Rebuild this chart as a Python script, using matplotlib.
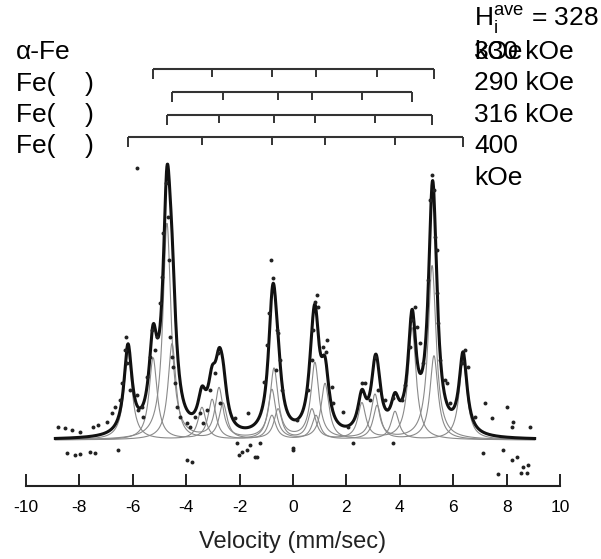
import numpy as np
import matplotlib
matplotlib.use('Agg')
import matplotlib.pyplot as plt

plt.rcParams['font.family'] = ['Liberation Sans', 'DejaVu Sans']
plt.rcParams['axes.unicode_minus'] = False
plt.rcParams['mathtext.fontset'] = 'custom'
plt.rcParams['mathtext.rm'] = 'Liberation Sans'

# line positions of the four sextets (mm/sec)
lines_330 = [-5.24, -3.03, -0.79, 0.86, 3.15, 5.28]
lines_290 = [-4.53, -2.62, -0.56, 0.71, 2.58, 4.46]
lines_316 = [-4.72, -2.77, -0.71, 0.82, 3.07, 5.21]
lines_400 = [-6.18, -3.41, -0.79, 1.20, 3.82, 6.37]

# line intensities (relative absorption, %) estimated from the fitted curves
heights_330 = [2.05, 1.0, 0.6, 0.6, 0.85, 2.1]
heights_290 = [2.4, 0.9, 0.75, 0.75, 0.9, 2.8]
heights_316 = [5.4, 1.25, 1.75, 1.9, 1.1, 4.35]
heights_400 = [2.2, 0.8, 1.25, 1.4, 0.7, 2.0]
hwhm = 0.18

left_labels = ['α-Fe', 'Fe(    )', 'Fe(    )', 'Fe(    )']
right_labels = ['330 kOe', '290 kOe', '316 kOe', '400', 'kOe']

# measured points (velocity, absorption %)
obs_v = [-8.79, -8.54, -8.29, -7.98, -7.48, -7.29, -6.98, -6.79, -6.67,
         -8.48, -8.16, -7.98, -7.60, -7.42, -6.54,
         -6.25, -6.29, -6.21, -6.42, -6.48, -6.10, -5.85, -5.79,
         -5.48, -5.36, -5.29, -5.10, -5.17, -5.67, -5.61,
         -4.98, -4.92, -4.86, -4.76, -4.67, -4.63, -4.61, -4.54, -4.48, -4.42,
         -4.36, -4.23, -3.98, -3.86, -3.67, -3.48, -3.98, -3.79, -5.84,
         -2.80, -2.92, -3.11, -2.73, -3.23, -3.36, -2.17, -1.67, -2.11, -1.92,
         -1.73, -1.36, -1.61, -1.24, -2.02, -1.42,
         -0.84, -0.76, -0.89, -0.99, -1.09, -0.61, -0.55, -0.49, -0.42, -0.64,
         0.01, 0.14, 0.0,
         0.91, 0.82, 0.95, 0.76, 0.70, 1.26, 1.24, 1.11, 0.57, 1.45, 1.51,
         1.88, 2.07, 2.26, 2.57, 2.88, 3.07,
         3.19, 2.70, 3.45, 3.76, 4.07, 4.19, 4.38, 4.45, 4.57, 4.63, 4.76, 4.86,
         5.07, 5.13, 5.19, 5.28, 5.32, 5.38, 5.40, 5.44, 5.51, 5.69, 5.78, 5.88,
         6.32, 6.44, 6.57, 6.82, 7.19, 7.44, 8.00, 8.25, 8.19, 8.88,
         7.13, 7.88, 8.19, 8.38, 8.63, 8.81, 3.75, 7.68, 8.54, 8.76]
obs_h = [0.33, 0.29, 0.25, 0.21, 0.33, 0.38, 0.46, 0.67, 0.83,
         -0.33, -0.38, -0.35, -0.29, -0.33, -0.25,
         2.58, 2.25, 1.92, 1.42, 1.0, 1.25, 1.13, 0.75,
         1.58, 2.08, 2.75, 2.58, 2.25, 0.83, 0.58,
         3.42, 4.08, 5.17, 6.42, 5.58, 4.5, 2.58, 2.08, 1.83, 1.42,
         0.83, 0.58, 0.42, 0.33, 0.58, 0.67, -0.5, -0.54, 6.8,
         2.17, 1.67, 1.25, 0.92, 0.75, 0.42, 0.54, 0.67, -0.08, -0.29,
         -0.25, -0.42, -0.13, -0.08, -0.38, -0.43,
         4.5, 4.04, 3.17, 2.38, 1.46, 2.75, 2.67, 2.0, 1.25, 1.75,
         -0.21, 0.5, -0.25,
         3.63, 3.46, 3.33, 2.75, 2.0, 2.5, 2.21, 2.33, 1.25, 1.33, 0.92,
         0.71, 0.33, -0.08, 1.42, 1.0, 2.08,
         1.25, 1.42, 1.0, 1.04, 1.0, 1.38, 2.33, 3.0, 3.33, 2.83, 2.42, 1.92,
         4.0, 6.0, 6.63, 6.25, 5.08, 4.75, 3.67, 2.92, 2.0, 1.5, 1.42, 0.92,
         1.92, 2.25, 1.83, 0.58, 0.92, 0.54, 0.83, 0.46, 0.33, 0.33,
         -0.33, -0.25, -0.5, -0.42, -0.67, -0.63, -0.08, -0.85, -0.83, -0.83]


def sextet(v, pos, hts):
    out = np.zeros_like(v)
    for p, h in zip(pos, hts):
        out += h / (1 + ((v - p) / hwhm) ** 2)
    return out


fig = plt.figure(figsize=(6.01, 5.59), dpi=100)
ax = fig.add_axes([26 / 601, 73 / 559, 534 / 601, 486 / 559])
ax.set_xlim(-10, 10)
ax.set_ylim(-1.15, 11.0)

v = np.linspace(-8.9, 9.05, 1200)
comps = [sextet(v, lines_330, heights_330), sextet(v, lines_290, heights_290),
         sextet(v, lines_316, heights_316), sextet(v, lines_400, heights_400)]
for c in comps:
    ax.plot(v, c, color='#8a8a8a', lw=0.8, zorder=1)
ax.plot(v, sum(comps), color='#111111', lw=2.2, zorder=2)
ax.scatter(obs_v, obs_h, s=8, color='#222222', linewidths=0, zorder=3)

# stick diagrams
bar_y = [9.275, 8.7, 8.125, 7.575]
for pos, y in zip([lines_330, lines_290, lines_316, lines_400], bar_y):
    ax.plot([pos[0], pos[-1]], [y, y], color='#333333', lw=1.5, solid_capstyle='butt')
    ax.vlines([pos[0], pos[-1]], y - 0.24, y, color='#333333', lw=1.4)
    ax.vlines(pos[1:-1], y - 0.2, y, color='#333333', lw=1.4)

# axis
for s in ['left', 'right', 'top']:
    ax.spines[s].set_visible(False)
ax.spines['bottom'].set_linewidth(1.5)
ax.spines['bottom'].set_color('#222222')
ax.set_yticks([])
ax.set_xticks(np.arange(-10, 11, 2))
ax.tick_params(axis='x', direction='in', length=9, width=1.4, color='#222222',
               labelsize=12.5, pad=10)
fig.text(293 / 601, 1 - 542 / 559, 'Velocity (mm/sec)', ha='center', va='center',
         fontsize=17, color='#222222')

# labels
left_y = [52, 84, 115, 146]
for t, y in zip(left_labels, left_y):
    fig.text(16 / 601, 1 - y / 559, t, ha='left', va='center', fontsize=19)
right_y = [52, 83, 115, 146, 178]
for t, y in zip(right_labels, right_y):
    fig.text(474 / 601, 1 - y / 559, t, ha='left', va='center', fontsize=19)
# wrapped second line of the H_i^ave label, printed over "330 kOe" as in the original
fig.text(474 / 601, 1 - 52 / 559, 'kOe', ha='left', va='center', fontsize=19)
fig.text(474 / 601, 1 - 20 / 559, r'H$_{\mathregular{i}}^{\mathregular{ave}}$ = 328',
         ha='left', va='center', fontsize=19)

fig.savefig('out.png', dpi=100)
